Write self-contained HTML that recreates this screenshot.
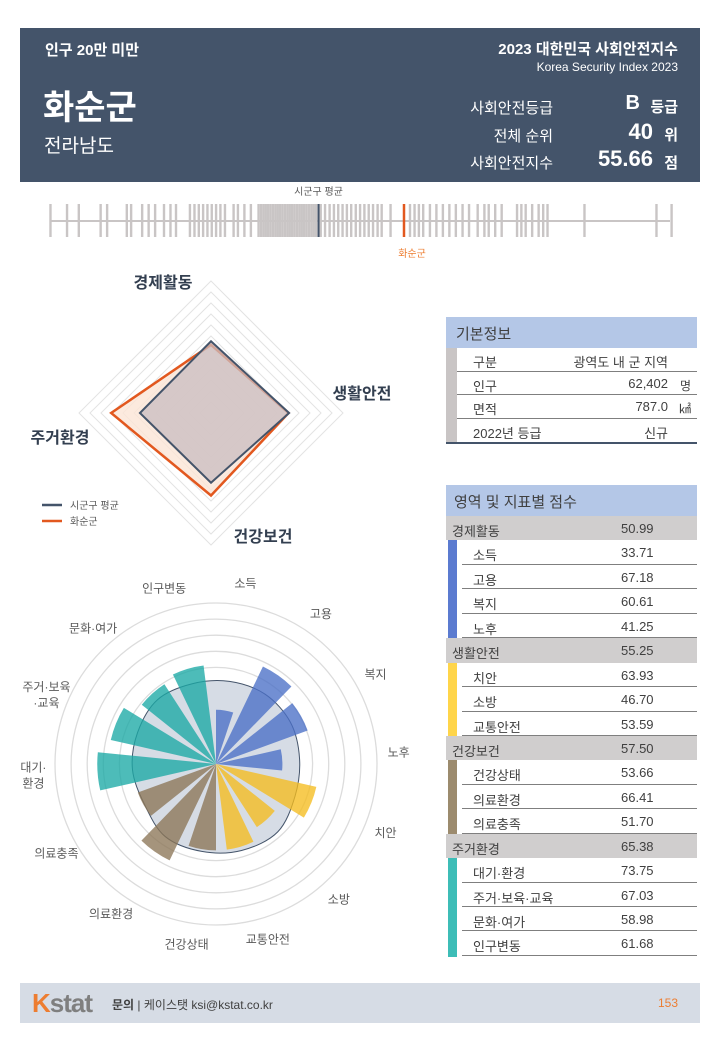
<!DOCTYPE html>
<html><head><meta charset="utf-8">
<style>
*{margin:0;padding:0;box-sizing:border-box}
body{width:720px;height:1040px;background:#fff;position:relative;overflow:hidden;font-family:"Liberation Sans","Noto Sans CJK KR",sans-serif;color:#404040}
.abs{position:absolute;white-space:nowrap}
#header{position:absolute;left:20px;top:28px;width:680px;height:154px;background:#44546a;color:#fff}
.tbl-row{position:absolute;left:446px;width:251px;font-size:13px}
</style></head><body>
<div id="header">
  <div class="abs" style="left:25px;top:11px;font-size:15px;font-weight:bold">인구 20만 미만</div>
  <div class="abs" style="left:23px;top:52px;font-size:34px;font-weight:bold">화순군</div>
  <div class="abs" style="left:24px;top:103px;font-size:19px">전라남도</div>
  <div class="abs" style="right:22px;top:10px;font-size:15px;font-weight:bold">2023 대한민국 사회안전지수</div>
  <div class="abs" style="right:22px;top:32px;font-size:12px">Korea Security Index 2023</div>
  <div class="abs" style="right:147px;top:69px;font-size:15px">사회안전등급</div>
  <div class="abs" style="right:60px;top:64px;font-size:20px;font-weight:bold">B</div>
  <div class="abs" style="right:22px;top:68px;font-size:15px;font-weight:bold">등급</div>
  <div class="abs" style="right:147px;top:97px;font-size:15px">전체 순위</div>
  <div class="abs" style="right:47px;top:91px;font-size:22px;font-weight:bold">40</div>
  <div class="abs" style="right:22px;top:96px;font-size:15px;font-weight:bold">위</div>
  <div class="abs" style="right:147px;top:124px;font-size:15px">사회안전지수</div>
  <div class="abs" style="right:47px;top:118px;font-size:22px;font-weight:bold">55.66</div>
  <div class="abs" style="right:22px;top:124px;font-size:15px;font-weight:bold">점</div>
</div>

<svg id="strip" class="abs" style="left:0;top:180px" width="720" height="80"></svg>
<svg id="radar" class="abs" style="left:0;top:260px" width="440" height="300"></svg>
<svg id="rose" class="abs" style="left:0;top:565px" width="440" height="400"></svg>

<div class="abs" style="left:446px;top:317px;width:251px;height:31px;background:#b4c7e7;font-size:15px;padding:6px 0 0 10px">기본정보</div>
<div class="abs" style="left:446px;top:348px;width:11px;height:95px;background:#c9c5c5"></div>
<div class="abs" style="left:446px;top:442px;width:251px;height:1.5px;background:#44546a"></div>
<div id="basic"></div>

<div class="abs" style="left:446px;top:485px;width:251px;height:31px;background:#b4c7e7;font-size:15px;padding:6px 0 0 8px">영역 및 지표별 점수</div>
<div id="scores"></div>

<div class="abs" style="left:20px;top:983px;width:680px;height:40px;background:#d6dce5">
  <div class="abs" style="left:12px;top:5px;font-size:26px;font-weight:bold;color:#7f7f7f;letter-spacing:-1px"><span style="color:#ed7d31">K</span>stat</div>
  <div class="abs" style="left:92px;top:13px;font-size:12px;color:#404040"><b>문의</b> | 케이스탯 ksi@kstat.co.kr</div>
  <div class="abs" style="right:22px;top:13px;font-size:12px;color:#ed7d31">153</div>
</div>

<script>
const NS="http://www.w3.org/2000/svg";
function mk(parent,tag,attrs){const e=document.createElementNS(NS,tag);for(const k in attrs)e.setAttribute(k,attrs[k]);parent.appendChild(e);return e;}

const districtScores=[40.93,41.62,42.11,43.02,43.29,44.11,44.29,44.75,45.02,45.29,45.66,45.93,46.16,46.74,46.93,47.11,47.29,47.47,47.65,47.83,48.01,48.20,48.56,48.74,49.01,49.28,
49.6,49.7,49.8,49.9,50.0,50.1,50.2,50.3,50.4,50.5,50.6,50.7,50.8,50.9,51.0,51.1,51.2,51.3,51.4,51.5,51.6,51.7,51.8,51.9,52.0,
52.19,52.37,52.56,52.74,52.92,53.10,53.28,53.46,53.65,53.83,54.01,54.19,54.37,54.56,54.73,55.10,55.91,56.10,56.28,56.46,56.74,57.01,57.28,57.55,57.82,58.10,58.37,58.73,59.01,59.19,59.46,59.73,60.37,60.55,60.73,61.00,61.27,61.46,61.64,63.18,66.18,66.81];
const avgScore=52.10, regionScore=55.66;
const sx=s=>404+(s-55.66)*24;
const strip=document.getElementById('strip');
let ln=mk(strip,'line',{x1:50,x2:670,y1:41,y2:41,stroke:'#c9c5c5','stroke-width':2});


districtScores.forEach(s=>{const t=mk(strip,'line',{x1:sx(s),x2:sx(s),y1:24,y2:57,stroke:'#c9c5c5','stroke-width':2.4});

});
let at=mk(strip,'line',{x1:sx(avgScore),x2:sx(avgScore),y1:24,y2:57,stroke:'#44546a','stroke-width':2});


let rt=mk(strip,'line',{x1:sx(regionScore),x2:sx(regionScore),y1:24,y2:57,stroke:'#e2581f','stroke-width':2.5});


let tl=mk(strip,'text',{x:sx(avgScore),y:15,'font-size':10,'text-anchor':'middle',fill:'#595959'});tl.textContent='시군구 평균';


let tr=mk(strip,'text',{x:sx(regionScore)+8,y:77,'font-size':10,'text-anchor':'middle',fill:'#ed7d31'});tr.textContent='화순군';



const domains=['경제활동','생활안전','건강보건','주거환경'];
const regionDomain=[50.99,55.25,57.50,65.38];
const avgDomain=[52.6,55.5,51.7,52.3];
const radarRings=[25,30,35,40,45,50,55,60,65,70,75,80];
const radar=document.getElementById('radar');
const rcx=211,rcy=153;
const rr=v=>(v-20)/60*132;
const rpt=(i,v)=>{const a=i*Math.PI/2;return [rcx+rr(v)*Math.sin(a),rcy-rr(v)*Math.cos(a)];};
radarRings.forEach(v=>{const p=[0,1,2,3].map(i=>rpt(i,v).join(',')).join(' ');
const g=mk(radar,'polygon',{points:p,fill:'none',stroke:'#e3e3e3','stroke-width':1});

});
const rp=mk(radar,'polygon',{points:regionDomain.map((v,i)=>rpt(i,v).join(',')).join(' '),fill:'#fbe5d6','fill-opacity':0.8,stroke:'#e2581f','stroke-width':2.5});


const ap=mk(radar,'polygon',{points:avgDomain.map((v,i)=>rpt(i,v).join(',')).join(' '),fill:'#c9bcc0','fill-opacity':0.75,stroke:'#44546a','stroke-width':2});


const dlab=[[163,28],[362,139],[263,282],[60,183]];
domains.forEach((d,i)=>{const t=mk(radar,'text',{x:dlab[i][0],y:dlab[i][1],'font-size':16,'font-weight':'bold','text-anchor':'middle',fill:'#333f50'});t.textContent=d;

});
[['시군구 평균','#44546a',245],['화순군','#e2581f',261]].forEach(l=>{
 const g=mk(radar,'line',{x1:42,x2:62,y1:l[2],y2:l[2],stroke:l[1],'stroke-width':2.5});
 
 
 const t=mk(radar,'text',{x:70,y:l[2]+4,'font-size':10,fill:'#595959'});t.textContent=l[0];
 
 });

const indicators=['소득','고용','복지','노후','치안','소방','교통안전','건강상태','의료환경','의료충족','대기·\n환경','주거·보육\n·교육','문화·여가','인구변동'];
const indicatorScores=[33.71,67.18,60.61,41.25,63.93,46.70,53.59,53.66,66.41,51.70,73.75,67.03,58.98,61.68];
const indicatorAvg=[52,53,53,52,53,57,56,55,55,51,52,52.5,54,52];
const indicatorGroup=[0,0,0,0,1,1,1,2,2,2,3,3,3,3];
const groupColors=['#4a6fc7','#f5bd1f','#8c7657','#1ba9a5'];
const roseRings=[50,60,70,80,90,100];
const rose=document.getElementById('rose');
const ocx=216,ocy=199;
const n=indicators.length, step=2*Math.PI/n, span=step*0.72;
const R=v=>v*1.61;
const P=(a,r)=>[ocx+r*Math.sin(a),ocy-r*Math.cos(a)];
roseRings.forEach(v=>{const c=mk(rose,'circle',{cx:ocx,cy:ocy,r:R(v),fill:'none',stroke:'#dcdcdc','stroke-width':1.3});

});
const pts=indicatorAvg.map((v,i)=>P(i*step+span/2,R(v)));
let d='M'+pts[0].join(',');
for(let i=0;i<n;i++){const p0=pts[(i-1+n)%n],p1=pts[i],p2=pts[(i+1)%n],p3=pts[(i+2)%n];
 const c1=[p1[0]+(p2[0]-p0[0])/6,p1[1]+(p2[1]-p0[1])/6],c2=[p2[0]-(p3[0]-p1[0])/6,p2[1]-(p3[1]-p1[1])/6];
 d+=` C${c1.join(',')} ${c2.join(',')} ${p2.join(',')}`;}
const avgShape=mk(rose,'path',{d:d+'Z',fill:'#d6dce5',stroke:'#44546a','stroke-width':1});


indicatorScores.forEach((v,i)=>{const a0=i*step,a1=a0+span,r=R(v);const p0=P(a0,r),p1=P(a1,r);
 const w=mk(rose,'path',{d:`M${ocx},${ocy} L${p0.join(',')} A${r},${r} 0 0 1 ${p1.join(',')} Z`,fill:groupColors[indicatorGroup[i]],'fill-opacity':0.78});
 
 
 const lp=P(a0+span/2,183);
 const lines=indicators[i].split('\n');
 const t=mk(rose,'text',{x:lp[0],y:lp[1]+4-(lines.length-1)*8,'font-size':12,'text-anchor':'middle',fill:'#595959'});
 lines.forEach((s,k)=>{const ts=mk(t,'tspan',{x:lp[0],dy:k?16:0});ts.textContent=s;});
 
 
});

const basic=[['구분','광역도 내 군 지역',''],['인구','62,402','명'],['면적','787.0','㎢'],['2022년 등급','신규','']];
const bdiv=document.getElementById('basic');
basic.forEach((r,i)=>{const y=348+i*23.7;const e=document.createElement('div');e.className='tbl-row';
 e.style.top=y+'px';e.style.height='23.7px';
 if(i<3)e.style.borderBottom='1px solid #7f7f7f';
 e.style.left='457px';e.style.width='240px';
 e.innerHTML=`<span class="abs" style="left:16px;top:4px">${r[0]}</span><span class="abs" style="right:29px;top:4px">${r[1]}</span><span class="abs" style="right:6px;top:5px;font-size:12px">${r[2]}</span>`;
 
 
 bdiv.appendChild(e);});

const scoreRows=[['경제활동','50.99',-1],['소득','33.71',0],['고용','67.18',0],['복지','60.61',0],['노후','41.25',0],
['생활안전','55.25',-1],['치안','63.93',1],['소방','46.70',1],['교통안전','53.59',1],
['건강보건','57.50',-1],['건강상태','53.66',2],['의료환경','66.41',2],['의료충족','51.70',2],
['주거환경','65.38',-1],['대기·환경','73.75',3],['주거·보육·교육','67.03',3],['문화·여가','58.98',3],['인구변동','61.68',3]];
const strip2=['#5b7bd0','#ffd54a','#9c8b6e','#3dbdb7'];
const sdiv=document.getElementById('scores');
const rh=24.44;
scoreRows.forEach((r,i)=>{const y=516+i*rh;const e=document.createElement('div');e.className='tbl-row';
 e.style.top=y+'px';e.style.height=rh+'px';
 if(r[2]<0){e.style.background='#d0cece';
  e.innerHTML=`<span class="abs" style="left:6px;top:5px">${r[0]}</span><span class="abs" style="left:175px;top:5px">${r[1]}</span>`;}
 else{e.innerHTML=`<span class="abs" style="left:2px;top:0;width:9px;height:${rh+1}px;background:${strip2[r[2]]}"></span><span class="abs" style="left:16px;right:0;bottom:0;height:1px;background:#7f7f7f"></span><span class="abs" style="left:27px;top:5px">${r[0]}</span><span class="abs" style="left:175px;top:5px">${r[1]}</span>`;}
 
 
 sdiv.appendChild(e);});
</script>
</body></html>
